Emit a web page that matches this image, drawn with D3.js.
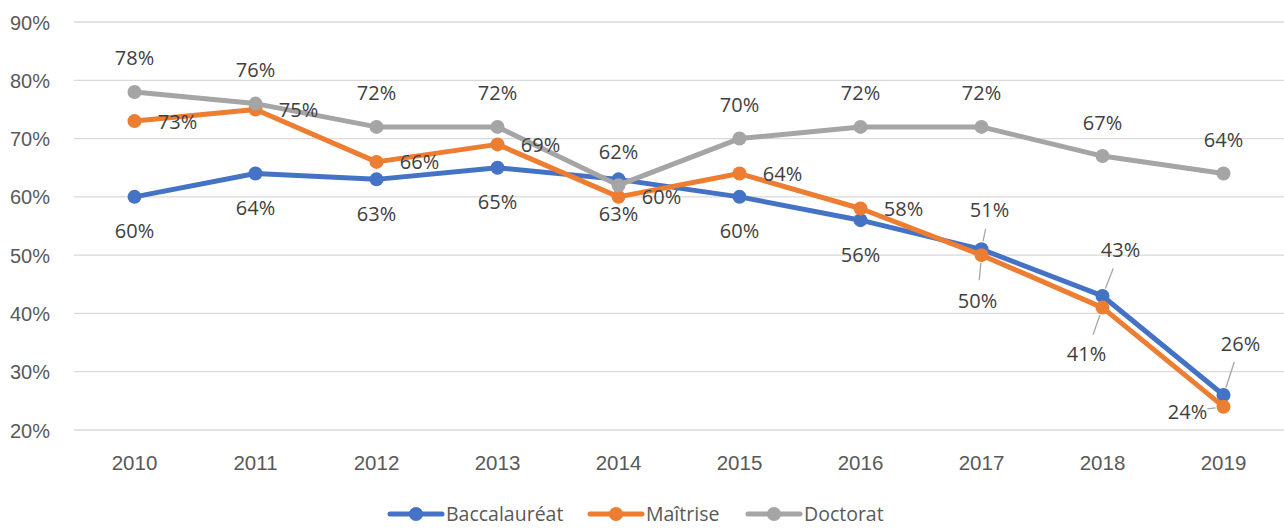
<!DOCTYPE html>
<html>
<head>
<meta charset="utf-8">
<script src="https://cdn.jsdelivr.net/npm/d3@7"></script>
<style>
  body { margin: 0; background: #fff; }
  svg { font-family: "Open Sans", "Noto Sans", sans-serif; }
</style>
</head>
<body>
<div class="chart"></div>
<script>
// données
const years = ['2010', '2011', '2012', '2013', '2014', '2015', '2016', '2017', '2018', '2019'];
const seriesNames = ['Baccalauréat', 'Maîtrise', 'Doctorat'];
const baccalaureat = [60, 64, 63, 65, 63, 60, 56, 51, 43, 26];
const maitrise = [73, 75, 66, 69, 60, 64, 58, 50, 41, 24];
const doctorat = [78, 76, 72, 72, 62, 70, 72, 72, 67, 64];
const yTicks = [20, 30, 40, 50, 60, 70, 80, 90];

const colors = ['#4472C4', '#ED7D31', '#A5A5A5'];
const width = 1284;
const height = 530;
const margin = { top: 22, right: 0, bottom: 100, left: 74 };

// position des étiquettes : [dx, dy] par rapport au point, et leader éventuel
const labelPos = [
	[[0, 34], [0, 34], [0, 34], [0, 34], [0, 34], [0, 34], [0, 34], [8, -40, 1], [18, -46, 1], [17, -52, 1]],
	[[43, 0], [43, 0], [43, 0], [43, 0], [43, 0], [43, 0], [43, 0], [-4, 45, 1], [-16, 46, 1], [-36, 5, 1]],
	[[0, -34], [0, -34], [0, -34], [0, -34], [0, -34], [0, -34], [0, -34], [0, -34], [0, -34], [0, -34]],
];

const series = [baccalaureat, maitrise, doctorat].map((values, i) => ({
	name: seriesNames[i],
	color: colors[i],
	values: values.map((v, j) => ({ year: years[j], value: v, pos: labelPos[i][j] })),
}));

const svg = d3.select('.chart').append('svg').attr('width', width).attr('height', height);

const x = d3
	.scaleBand()
	.domain(years)
	.range([margin.left, width - margin.right]);

const y = d3
	.scaleLinear()
	.domain([20, 90])
	.range([height - margin.bottom, margin.top]);

const cx = d => x(d.year) + x.bandwidth() / 2;

// grille
svg
	.append('g')
	.selectAll('line')
	.data(yTicks)
	.enter()
	.append('line')
	.attr('x1', margin.left)
	.attr('x2', width - margin.right)
	.attr('y1', d => y(d))
	.attr('y2', d => y(d))
	.attr('stroke', '#d9d9d9')
	.attr('stroke-width', 1.3);

// axe y
const yAxis = svg
	.append('g')
	.attr('transform', `translate(${margin.left - 21},0)`)
	.call(
		d3
			.axisLeft(y)
			.tickValues(yTicks)
			.tickSize(0)
			.tickFormat(d => d + '%')
	);
yAxis.select('.domain').remove();
yAxis.selectAll('text').attr('fill', '#595959').style('font-size', '20px').attr('dy', '0.35em');

// axe x
const xAxis = svg
	.append('g')
	.attr('transform', `translate(0,${height - margin.bottom + 19})`)
	.call(d3.axisBottom(x).tickSize(0));
xAxis.select('.domain').remove();
xAxis.selectAll('text').attr('fill', '#595959').style('font-size', '20.5px').attr('dy', '0.9em');

const line = d3
	.line()
	.x(cx)
	.y(d => y(d.value));

// lignes et marqueurs
series.forEach(s => {
	svg
		.append('path')
		.datum(s.values)
		.attr('fill', 'none')
		.attr('stroke', s.color)
		.attr('stroke-width', 5)
		.attr('stroke-linejoin', 'round')
		.attr('d', line);
	svg
		.append('g')
		.selectAll('circle')
		.data(s.values)
		.enter()
		.append('circle')
		.attr('cx', cx)
		.attr('cy', d => y(d.value))
		.attr('r', 7)
		.attr('fill', s.color);
});

// étiquettes de données
series.forEach(s => {
	const g = svg.append('g');
	s.values.forEach(d => {
		const px = cx(d);
		const py = y(d.value);
		const [dx, dy, leader] = d.pos;
		if (leader) {
			// trait de rappel entre le point et l'étiquette
			const len = Math.hypot(dx, dy);
			const ux = dx / len;
			const uy = dy / len;
			const start = 8;
			const end = Math.max(start + 6, len - 20);
			g.append('line')
				.attr('x1', px + ux * start)
				.attr('y1', py + uy * start)
				.attr('x2', px + ux * end)
				.attr('y2', py + uy * end)
				.attr('stroke', '#a6a6a6')
				.attr('stroke-width', 1.3);
		}
		g.append('text')
			.attr('x', px + dx)
			.attr('y', py + dy)
			.attr('text-anchor', 'middle')
			.attr('dominant-baseline', 'central')
			.attr('fill', '#404040')
			.style('font-size', '20px')
			.text(d.value + '%');
	});
});

// légende
const legendX = [390, 590, 748];
const legend = svg
	.append('g')
	.selectAll('g')
	.data(series)
	.enter()
	.append('g')
	.attr('transform', (d, i) => `translate(${legendX[i]},514)`);
legend
	.append('line')
	.attr('x1', 0)
	.attr('x2', 52)
	.attr('stroke', d => d.color)
	.attr('stroke-width', 5)
	.attr('stroke-linecap', 'round');
legend
	.append('circle')
	.attr('cx', 26)
	.attr('r', 7)
	.attr('fill', d => d.color);
legend
	.append('text')
	.attr('x', 56)
	.attr('dy', '0.35em')
	.attr('fill', '#595959')
	.style('font-size', '19.5px')
	.text(d => d.name);
</script>
</body>
</html>
